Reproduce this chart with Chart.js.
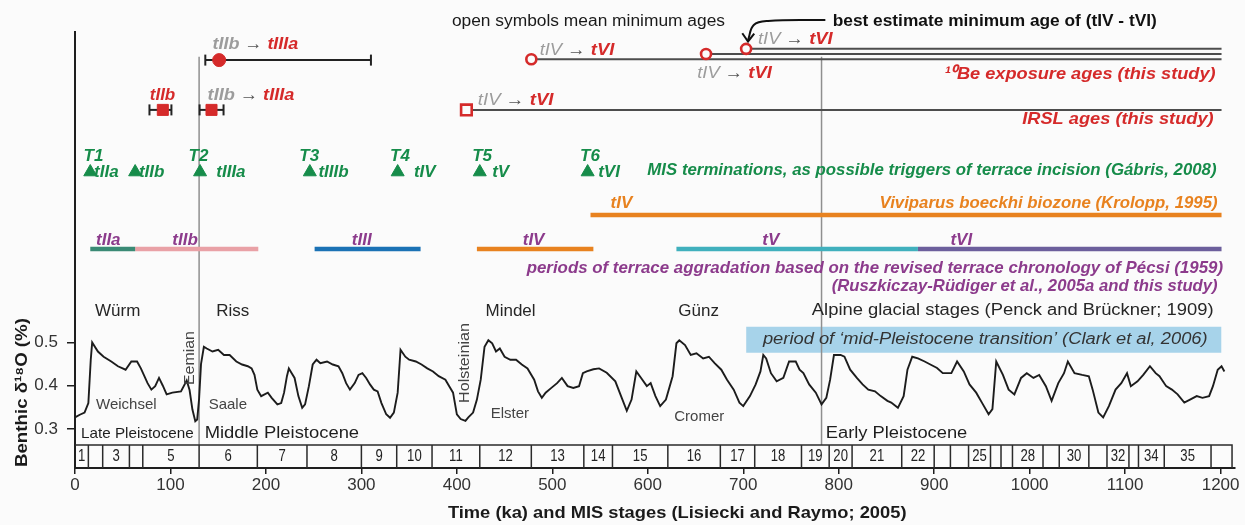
<!DOCTYPE html>
<html>
<head>
<meta charset="utf-8">
<title>Danube terraces vs. benthic d18O</title>
<script src="https://cdn.jsdelivr.net/npm/chart.js@4.4.1/dist/chart.umd.min.js"></script>
<style>
  html, body { margin: 0; padding: 0; background: #fbfbfb; }
  #wrap { width: 1245px; height: 525px; }
</style>
</head>
<body>
<div id="wrap"><canvas id="chart" width="1245" height="525"></canvas></div>
<script>
// ---------- data ----------
// LR04-type benthic stack, time in ka
var ageKa = [0, 5, 10, 14, 16.5, 18, 24, 30, 38, 45, 53, 59, 65, 69, 76, 80, 84, 88, 92, 96,
  102, 111, 117, 120, 123, 126, 128, 130, 132, 135, 138, 144, 150, 156, 162, 169, 175, 181, 185, 188,
  191, 195, 202, 206, 212, 216, 219, 222, 224, 227, 230, 234, 238, 241, 245, 249, 253, 257, 264, 270,
  276, 280, 284, 288, 293, 297, 301, 305, 309, 313, 317, 321, 326, 330, 334, 338, 341, 346, 350, 357,
  363, 369, 375, 381, 388, 392, 396, 400, 404, 409, 412, 417, 421, 425, 429, 433, 437, 441, 445, 450,
  456, 462, 468, 474, 481, 485, 489, 493, 499, 505, 510, 516, 522, 528, 532, 536, 543, 549, 557, 566,
  572, 578, 583, 588, 593, 599, 603, 608, 613, 619, 626, 630, 633, 639, 645, 651, 658, 664, 670, 677,
  683, 690, 696, 700, 707, 713, 718, 721, 724, 729, 735, 742, 748, 755, 759, 763, 769, 776, 782, 787,
  791, 795, 802, 806, 812, 819, 825, 831, 838, 844, 851, 855, 862, 868, 872, 877, 883, 890, 896, 903,
  909, 918, 924, 931, 937, 944, 950, 957, 961, 965, 972, 978, 984, 991, 997, 1004, 1010, 1017, 1023, 1030,
  1036, 1040, 1047, 1055, 1062, 1066, 1072, 1077, 1083, 1090, 1096, 1102, 1106, 1113, 1119, 1126, 1132, 1136, 1143, 1149,
  1155, 1162, 1168, 1175, 1181, 1188, 1192, 1197, 1201, 1204];
var d18O = [0.327, 0.333, 0.338, 0.36, 0.46, 0.5, 0.479, 0.467, 0.456, 0.445, 0.437, 0.456, 0.456, 0.44, 0.406, 0.391, 0.399, 0.418, 0.4, 0.38,
  0.384, 0.387, 0.412, 0.39, 0.345, 0.318, 0.322, 0.37, 0.45, 0.49, 0.486, 0.479, 0.483, 0.471, 0.471, 0.456, 0.449, 0.445, 0.44, 0.425,
  0.391, 0.376, 0.384, 0.372, 0.357, 0.36, 0.384, 0.422, 0.44, 0.429, 0.418, 0.376, 0.349, 0.357, 0.399, 0.449, 0.46, 0.452, 0.456, 0.449,
  0.445, 0.429, 0.406, 0.391, 0.406, 0.425, 0.429, 0.418, 0.403, 0.391, 0.387, 0.36, 0.334, 0.326, 0.338, 0.384, 0.483, 0.467, 0.46, 0.456,
  0.449, 0.44, 0.433, 0.422, 0.414, 0.399, 0.384, 0.334, 0.323, 0.319, 0.327, 0.338, 0.368, 0.414, 0.49, 0.505, 0.498, 0.479, 0.486, 0.467,
  0.46, 0.46, 0.449, 0.44, 0.414, 0.387, 0.372, 0.384, 0.395, 0.406, 0.418, 0.399, 0.395, 0.399, 0.429, 0.433, 0.438, 0.44, 0.43, 0.41,
  0.376, 0.342, 0.368, 0.433, 0.418, 0.399, 0.406, 0.376, 0.353, 0.368, 0.422, 0.498, 0.505, 0.494, 0.471, 0.475, 0.463, 0.467, 0.452, 0.437,
  0.414, 0.391, 0.361, 0.353, 0.376, 0.403, 0.433, 0.471, 0.463, 0.429, 0.41, 0.418, 0.456, 0.456, 0.437, 0.429, 0.403, 0.384, 0.357, 0.372,
  0.414, 0.471, 0.471, 0.467, 0.437, 0.418, 0.403, 0.391, 0.387, 0.376, 0.365, 0.361, 0.349, 0.376, 0.437, 0.467, 0.463, 0.456, 0.449, 0.441,
  0.429, 0.429, 0.456, 0.433, 0.403, 0.384, 0.361, 0.334, 0.346, 0.456, 0.425, 0.391, 0.38, 0.418, 0.429, 0.418, 0.425, 0.399, 0.365, 0.406,
  0.429, 0.456, 0.429, 0.425, 0.422, 0.391, 0.338, 0.327, 0.353, 0.391, 0.406, 0.429, 0.399, 0.41, 0.425, 0.445, 0.429, 0.422, 0.399, 0.391,
  0.38, 0.361, 0.368, 0.376, 0.372, 0.376, 0.399, 0.437, 0.445, 0.433];

var xTicks = [0, 100, 200, 300, 400, 500, 600, 700, 800, 900, 1000, 1100, 1200];
var yTicks = [0.3, 0.4, 0.5];

// MIS stage boundaries (ka) and the numbers printed in the boxes
var misBounds = [0, 14, 29, 57, 71, 130, 191, 243, 300, 337, 374, 424, 478, 533, 563, 621, 676, 712, 761, 790,
  814, 866, 900, 917, 936, 959, 970, 982, 1014, 1031, 1062, 1081, 1104, 1114, 1141, 1190, 1212];
var misNumbers = ['1', '', '3', '', '5', '6', '7', '8', '9', '10', '11', '12', '13', '14', '15', '16', '17', '18',
  '19', '20', '21', '22', '', '', '25', '', '', '28', '', '30', '', '32', '', '34', '35', ''];

// dated samples with error range (ka)
var datedAge = [151, 92, 143];
var datedLo = [136.5, 78, 130.5];
var datedHi = [310, 101, 155.6];
// minimum ages, open symbols
var beMinAge = [478, 661, 703];
var irslMinAge = [410];
var recordEnd = 1201;

// MIS terminations
var termAge = [16, 63, 131, 246, 338, 424, 537];
var termTerrace = ['tIIa', 'tIIb', 'tIIIa', 'tIIIb', 'tIV', 'tV', 'tVI'];
var termTag = ['T1', '', 'T2', 'T3', 'T4', 'T5', 'T6'];

var biozone = [540, 1201];
var terraceName = ['tIIa', 'tIIb', 'tIII', 'tIV', 'tV', 'tVI'];
var terraceStart = [16, 63, 251, 421, 630, 883];
var terraceEnd = [63, 192, 362, 543, 883, 1201];
var mptSpan = [703, 1201];
var epochBounds = [130, 782];

// ---------- layout (rows in y-scale units) and style ----------
var rows = {
  note: 1.240, be: [1.154, 1.166, 1.178], dated: [1.152, 1.037, 1.037], irsl: 1.037,
  lineTop: 1.16, term: 0.8935, termTag: 0.93, bio: 0.794, terrace: 0.716, terraceTag: 0.7365,
  mptTop: 0.536, mptBottom: 0.476, boxTop: 0.263, boxBottom: 0.21, misNumber: 0.2353
};
var termTagX = [9, 0, 119, 235, 330, 416, 529];
var termNameX = [20, 67, 148, 255, 355, 437, 548];
var terraceTagX = [22, 102, 290, 469, 720, 917];

var FONT = '"Liberation Sans", Arial, Helvetica, sans-serif';
var RED = '#d52a2a', GREY = '#9c9c9c', ARW = '#555555', GREEN = '#168c4a', ORANGE = '#e8821f',
    PURPLE = '#8c3b8c', INK = '#262626', BG = '#fbfbfb';
var terraceColors = ['#3a8a75', '#e9a1a6', '#1b72b5', ORANGE, '#40b0bd', '#6c5f9c'];

function pts(x1, y1, x2, y2) { return [{x: x1, y: y1}, {x: x2, y: y2}]; }
function lineSet(data, color, width, order, extra) {
  var d = {data: data, borderColor: color, borderWidth: width, pointRadius: 0, order: order};
  for (var k in extra) d[k] = extra[k];
  return d;
}
function change(from, to, fromStyle) {
  return [{t: from, c: GREY, f: fromStyle || 'bold italic'}, {t: ' \u2192 ', c: ARW, f: 'normal'}, {t: to, c: RED, f: 'bold italic'}];
}

// ---------- datasets ----------
var datasets = [];

datasets.push({ // dated samples
  data: datedAge.map(function (a, i) { return {x: a, y: rows.dated[i]}; }),
  showLine: false, pointStyle: ['circle', 'rect', 'rect'], pointRadius: [6.5, 7.8, 7.8],
  pointBackgroundColor: RED, pointBorderColor: RED, pointBorderWidth: 1, order: 0
});
datasets.push({ // minimum ages
  data: beMinAge.map(function (a, i) { return {x: a, y: rows.be[i]}; })
    .concat(irslMinAge.map(function (a) { return {x: a, y: rows.irsl}; })),
  showLine: false, pointStyle: ['circle', 'circle', 'circle', 'rect'], pointRadius: [5, 5, 5, 7.5],
  pointBackgroundColor: BG, pointBorderColor: RED, pointBorderWidth: 2.6, order: 0
});
datedAge.forEach(function (a, i) {
  datasets.push(lineSet(pts(datedLo[i], rows.dated[i], datedHi[i], rows.dated[i]), '#222', 2, 1, {
    pointStyle: 'line', pointRotation: 90, pointRadius: 5.5, pointBorderColor: '#222', pointBorderWidth: 2
  }));
});
beMinAge.forEach(function (a, i) {
  datasets.push(lineSet(pts(a, rows.be[i], recordEnd, rows.be[i]), '#4d4d4d', 2, 2));
});
irslMinAge.forEach(function (a) {
  datasets.push(lineSet(pts(a, rows.irsl, recordEnd, rows.irsl), '#4d4d4d', 2, 2));
});
// arrow to the best estimate
datasets.push(lineSet([{x: 786, y: 1.2446}, {x: 726, y: 1.2423}, {x: 711, y: 1.233}, {x: 705, y: 1.198}],
  '#111', 2, 0, {tension: 0.4, clip: false}));
datasets.push(lineSet([{x: 699, y: 1.214}, {x: 705, y: 1.195}, {x: 711.5, y: 1.213}], '#111', 2, 0, {clip: false}));

datasets.push({ // terminations
  data: termAge.map(function (a) { return {x: a, y: rows.term}; }),
  showLine: false, pointStyle: 'triangle', pointRadius: 7.5,
  pointBackgroundColor: GREEN, pointBorderColor: GREEN, pointBorderWidth: 1, order: 0
});
datasets.push(lineSet(pts(biozone[0], rows.bio, biozone[1], rows.bio), ORANGE, 4.5, 2));
terraceName.forEach(function (n, i) {
  datasets.push(lineSet(pts(terraceStart[i], rows.terrace, terraceEnd[i], rows.terrace), terraceColors[i], 4.5, 2));
});

datasets.push(lineSet(ageKa.map(function (a, i) { return {x: a, y: d18O[i]}; }), '#1c1c1c', 1.9, 3));

epochBounds.forEach(function (b) {
  datasets.push(lineSet(pts(b, rows.lineTop, b, rows.boxTop), '#8f8f8f', 1.5, 6));
});

var box = [{x: 0, y: rows.boxTop}, {x: misBounds[misBounds.length - 1], y: rows.boxTop}, {x: misBounds[misBounds.length - 1], y: rows.boxBottom}, {x: null, y: null}];
misBounds.slice(1, -1).forEach(function (b) {
  box.push({x: b, y: rows.boxBottom}, {x: b, y: rows.boxTop}, {x: b, y: null});
});
datasets.push(lineSet(box, '#2b2b2b', 1.5, 4, {spanGaps: false}));

datasets.push(lineSet(pts(mptSpan[0], rows.mptTop, mptSpan[1], rows.mptTop), 'rgba(0,0,0,0)', 0, 9,
  {fill: {value: rows.mptBottom}, backgroundColor: '#a7d3ea'}));

// ---------- text ----------
var labels = [
  {t: 'open symbols mean minimum ages', x1: 394.8, x2: 680.9, y: rows.note, f: 'normal', size: 16, c: '#1a1a1a'},
  {t: 'best estimate minimum age of (tIV - tVI)', x1: 793.7, x2: 1133.2, y: rows.note, f: 'bold', size: 16, c: '#111'},
  {segs: change('tIIb', 'tIIIa'), x1: 144.1, x2: 233.9, y: 1.189, size: 17},
  {t: 'tIIb', x1: 78.3, y: 1.071, f: 'bold italic', size: 17, c: RED},
  {segs: change('tIIb', 'tIIIa'), x1: 138.9, x2: 229.8, y: 1.071, size: 17},
  {segs: change('tIV', 'tVI', 'italic'), x1: 486.7, x2: 565, y: 1.175, size: 17},
  {segs: change('tIV', 'tVI', 'italic'), x1: 651.7, x2: 730, y: 1.122, size: 17},
  {segs: change('tIV', 'tVI', 'italic'), x1: 715.4, x2: 793.7, y: 1.201, size: 17},
  {t: '\u00b9\u2070Be exposure ages (this study)', x1: 910.7, x2: 1194.8, y: 1.120, f: 'bold italic', size: 17, c: RED},
  {segs: change('tIV', 'tVI', 'italic'), x1: 421.9, x2: 501.3, y: 1.060, size: 17},
  {t: 'IRSL ages (this study)', x1: 992.2, x2: 1192.7, y: 1.016, f: 'bold italic', size: 17, c: RED},

  {t: 'MIS terminations, as possible triggers of terrace incision (G\u00e1bris, 2008)', x1: 599.5, x2: 1195.8, y: 0.898, f: 'bold italic', size: 17, c: GREEN},
  {t: 'tIV', x1: 561, y: 0.822, f: 'bold italic', size: 17, c: ORANGE},
  {t: 'Viviparus boeckhi biozone (Krolopp, 1995)', x1: 842.8, x2: 1196.9, y: 0.822, f: 'bold italic', size: 17, c: ORANGE},
  {t: 'periods of terrace aggradation based on the revised terrace chronology of P\u00e9csi (1959)', x1: 473.1, x2: 1202.6, y: 0.672, f: 'bold italic', size: 17, c: PURPLE},
  {t: '(Ruszkiczay-R\u00fcdiger et al., 2005a and this study)', x1: 792.7, x2: 1196.9, y: 0.630, f: 'bold italic', size: 17, c: PURPLE},

  {t: 'W\u00fcrm', x1: 21, y: 0.5725, size: 17, c: INK},
  {t: 'Riss', x1: 148, y: 0.5725, size: 17, c: INK},
  {t: 'Mindel', x1: 430, y: 0.5725, size: 17, c: INK},
  {t: 'G\u00fcnz', x1: 632, y: 0.5725, size: 17, c: INK},
  {t: 'Alpine glacial stages (Penck and Br\u00fcckner; 1909)', x1: 771.8, x2: 1192.7, y: 0.5725, size: 16, c: INK},
  {t: 'period of \u2018mid-Pleistocene transition\u2019 (Clark et al, 2006)', x1: 720.6, x2: 1186.4, y: 0.5055, f: 'italic', size: 16, c: '#333'},
  {t: 'Weichsel', x1: 22, y: 0.355, size: 15, c: '#444'},
  {t: 'Saale', x1: 140, y: 0.355, size: 15, c: '#444'},
  {t: 'Elster', x1: 435.5, y: 0.3346, size: 15, c: '#444'},
  {t: 'Cromer', x1: 627.7, y: 0.3277, size: 15, c: '#444'},
  {t: 'Eemian', rot: true, x: 120.1, y1: 0.4016, y2: 0.5263, size: 15, c: '#444'},
  {t: 'Holsteinian', rot: true, x: 408, y1: 0.36, y2: 0.5448, size: 15, c: '#444'},
  {t: 'Late Pleistocene', x1: 6.3, x2: 124.3, y: 0.2885, size: 15, c: '#1e1e1e'},
  {t: 'Middle Pleistocene', x1: 135.8, x2: 297.6, y: 0.2885, size: 16, c: '#1e1e1e'},
  {t: 'Early Pleistocene', x1: 786.4, x2: 934.7, y: 0.2885, size: 16, c: '#1e1e1e'},

  {t: 'Time (ka) and MIS stages (Lisiecki and Raymo; 2005)', x1: 390.6, x2: 871, y: 0.106, f: 'bold', size: 17, c: '#1a1a1a'},
  {t: 'Benthic \u03b4\u00b9\u2078O (%)', rot: true, px: 22, y1: 0.2122, y2: 0.5563, f: 'bold', size: 17, c: '#1a1a1a'}
];
termAge.forEach(function (a, i) {
  if (termTag[i]) labels.push({t: termTag[i], x1: termTagX[i], y: rows.termTag, f: 'bold italic', size: 17, c: GREEN});
  labels.push({t: termTerrace[i], x1: termNameX[i], y: rows.term, f: 'bold italic', size: 17, c: GREEN});
});
terraceName.forEach(function (n, i) {
  labels.push({t: n, x1: terraceTagX[i], y: rows.terraceTag, f: 'bold italic', size: 17, c: PURPLE});
});
misNumbers.forEach(function (n, i) {
  if (n) labels.push({t: n, x1: (misBounds[i] + misBounds[i + 1]) / 2, align: 'center', sx: 0.82, y: rows.misNumber, size: 16, c: '#222'});
});

function clampStretch(v) { return Math.max(0.7, Math.min(1.4, v)); }

function drawLabel(ctx, chart, L) {
  var xs = chart.scales.x, ys = chart.scales.y;
  var segs = L.segs || [{t: L.t, c: L.c, f: L.f}];
  var size = L.size || 16, w = 0, sx = L.sx || 1, x0;
  segs.forEach(function (s) {
    ctx.font = (s.f || 'normal') + ' ' + size + 'px ' + FONT;
    s.w = ctx.measureText(s.t).width;
    w += s.w;
  });
  ctx.save();
  if (L.rot) {
    var p1 = ys.getPixelForValue(L.y1), p2 = ys.getPixelForValue(L.y2);
    sx = clampStretch(Math.abs(p1 - p2) / w);
    ctx.translate(L.px != null ? L.px : xs.getPixelForValue(L.x), (p1 + p2) / 2);
    ctx.rotate(-Math.PI / 2);
    x0 = -w * sx / 2;
  } else {
    var a = xs.getPixelForValue(L.x1);
    ctx.translate(0, ys.getPixelForValue(L.y));
    if (L.x2 != null) {
      var b = xs.getPixelForValue(L.x2);
      sx = clampStretch((b - a) / w);
      x0 = (a + b) / 2 - w * sx / 2;
    } else {
      x0 = L.align === 'center' ? a - w * sx / 2 : a;
    }
  }
  ctx.translate(x0, 0);
  ctx.scale(sx, 1);
  ctx.textBaseline = 'middle';
  ctx.textAlign = 'left';
  var cx = 0;
  segs.forEach(function (s) {
    ctx.font = (s.f || 'normal') + ' ' + size + 'px ' + FONT;
    ctx.fillStyle = s.c || L.c || INK;
    ctx.fillText(s.t, cx, 0);
    cx += s.w;
  });
  ctx.restore();
}

var figureText = {
  id: 'figureText',
  afterDatasetsDraw: function (chart) {
    var ctx = chart.ctx;
    labels.forEach(function (L) { drawLabel(ctx, chart, L); });
  }
};

Chart.defaults.font.family = FONT;

new Chart(document.getElementById('chart'), {
  type: 'line',
  data: {datasets: datasets},
  plugins: [figureText],
  options: {
    responsive: false,
    animation: false,
    devicePixelRatio: 1,
    events: [],
    layout: {padding: {top: 32, right: 7, left: 0, bottom: 0}},
    elements: {point: {radius: 0}, line: {tension: 0}},
    plugins: {legend: {display: false}, tooltip: {enabled: false}},
    scales: {
      x: {
        type: 'linear', min: 0, max: 1215,
        afterBuildTicks: function (s) { s.ticks = xTicks.map(function (v) { return {value: v}; }); },
        afterFit: function (s) { s.height = 57; },
        border: {display: true, color: '#1e1e1e', width: 2},
        grid: {display: true, drawOnChartArea: false, drawTicks: true, tickLength: 6, color: '#1e1e1e', lineWidth: 1.5},
        ticks: {color: '#333', padding: 1, maxRotation: 0, font: {size: 17}, callback: function (v) { return String(v); }}
      },
      y: {
        type: 'linear', min: 0.21, max: 1.2169,
        afterBuildTicks: function (s) { s.ticks = yTicks.map(function (v) { return {value: v}; }); },
        afterFit: function (s) { s.width = 75; },
        border: {display: true, color: '#1e1e1e', width: 2},
        grid: {display: true, drawOnChartArea: false, drawTicks: true, tickLength: 8, color: '#1e1e1e', lineWidth: 1.5},
        ticks: {color: '#333', padding: 9, font: {size: 17}, callback: function (v) { return v.toFixed(1); }}
      }
    }
  }
});
</script>
</body>
</html>
